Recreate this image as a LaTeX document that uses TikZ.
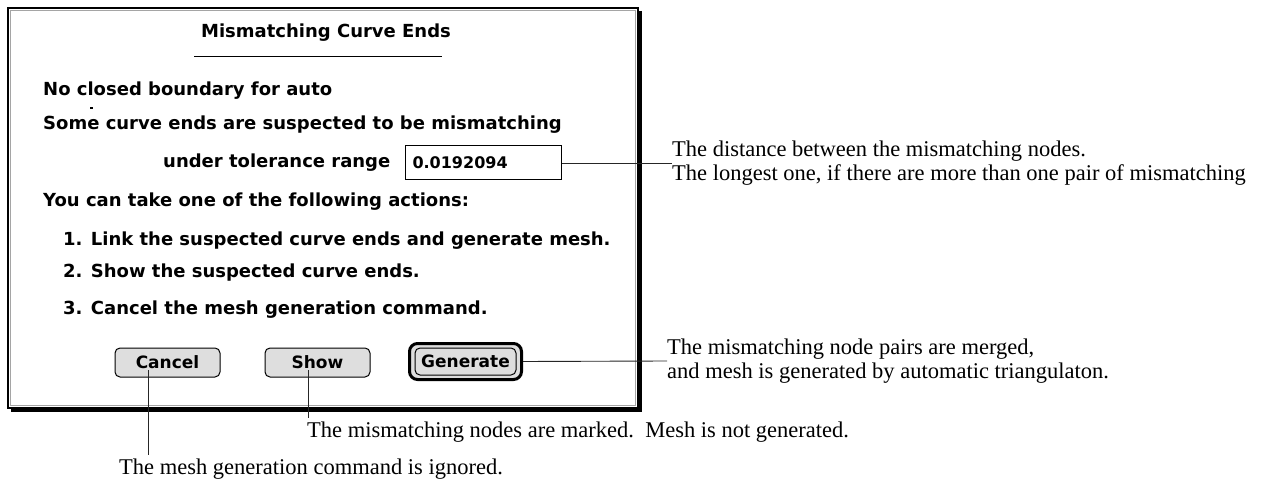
\documentclass[tikz,border=0pt]{standalone}
\usepackage{fontspec}
\setmainfont{Liberation Serif}
\newfontfamily\chifont{DejaVu Sans}
\usepackage{tikz}
\usetikzlibrary{positioning}
\definecolor{btngray}{RGB}{222,222,222}
\definecolor{framegray}{RGB}{165,165,165}

\begin{document}
\begin{tikzpicture}[x=1pt,y=-1pt,
    dlgtext/.style={font=\chifont\bfseries\fontsize{18}{21}\selectfont, anchor=west, inner sep=0pt},
    note/.style={font=\fontsize{22.5}{24}\selectfont, anchor=west, align=left, inner sep=0pt},
    macbutton/.style={draw, line width=1pt, rounded corners=5pt, fill=btngray,
        minimum width=105pt, minimum height=29pt, inner sep=0pt,
        font=\chifont\bfseries\fontsize{17}{20}\selectfont},
    leader/.style={draw=black!85, line width=0.9pt}]
    \useasboundingbox (0,0) rectangle (1261,481);

    % dialog frame
    \draw [fill=white, line width=2pt] (8,8) rectangle (638,408);
    \draw [framegray, line width=1.5pt] (10.5,10.5) rectangle (635.5,405.5);
    \draw [line width=3.5pt] (640,11) -- (640,410) -- (11,410);

    % dialog texts
    \node [dlgtext, anchor=center] (title) at (326,33) {Mismatching Curve Ends};
    \draw [line width=1pt] (194,57) -- (442,57);
    \node [dlgtext] (noclosed) at (43,91) {No closed boundary for auto};
    \fill (90,107.5) rectangle (93,109);
    \node [dlgtext] (suspect) at (43,125) {Some curve ends are suspected to be mismatching};
    \node [dlgtext] (tolerance) at (163,163) {under tolerance range};
    \node [draw, line width=1pt, minimum width=156pt, minimum height=34pt,
        text width=141pt, align=left, inner xsep=7pt, inner ysep=0pt,
        font=\chifont\bfseries\fontsize{16}{19}\selectfont] (tolbox) at (483,163) {0.0192094};
    \node [dlgtext] (actions) at (43,202) {You can take one of the following actions:};
    \node [dlgtext] (act1) at (63,241) {1. Link the suspected curve ends and generate mesh.};
    \node [dlgtext] (act2) at (63,273) {2. Show the suspected curve ends.};
    \node [dlgtext] (act3) at (63,310) {3. Cancel the mesh generation command.};

    % buttons
    \node [macbutton] (cancel) at (167.5,362.5) {Cancel};
    \node [macbutton] (show) at (317.5,362.5) {Show};
    \node [draw, line width=3pt, rounded corners=8pt, fill=btngray,
        minimum width=112pt, minimum height=36pt] (ring) at (465.5,361.5) {};
    \node [macbutton, minimum width=101pt, minimum height=27pt] (generate) at (465.5,361.5) {Generate};

    % notes
    \node [note] (distance) at (672,163) {The distance between the mismatching nodes.\\
        The longest one, if there are more than one pair of mismatching};
    \node [note] (merged) at (667,361) {The mismatching node pairs are merged,\\
        and mesh is generated by automatic triangulaton.};
    \node [note] (marked) at (307,432) {The mismatching nodes are marked.\ \ Mesh is not generated.};
    \node [note] (ignored) at (119,469) {The mesh generation command is ignored.};

    % leaders
    \coordinate (cancelpt) at (148,370);
    \coordinate (showpt) at (308,370);
    \draw [leader] (tolbox.east) -- (distance.west);
    \draw [leader] (ring.east) -- (merged.west);
    \draw [leader] (showpt) -- ([yshift=4pt]showpt |- marked.north);
    \draw [leader] (cancelpt) -- ([yshift=4pt]cancelpt |- ignored.north);
\end{tikzpicture}
\end{document}
